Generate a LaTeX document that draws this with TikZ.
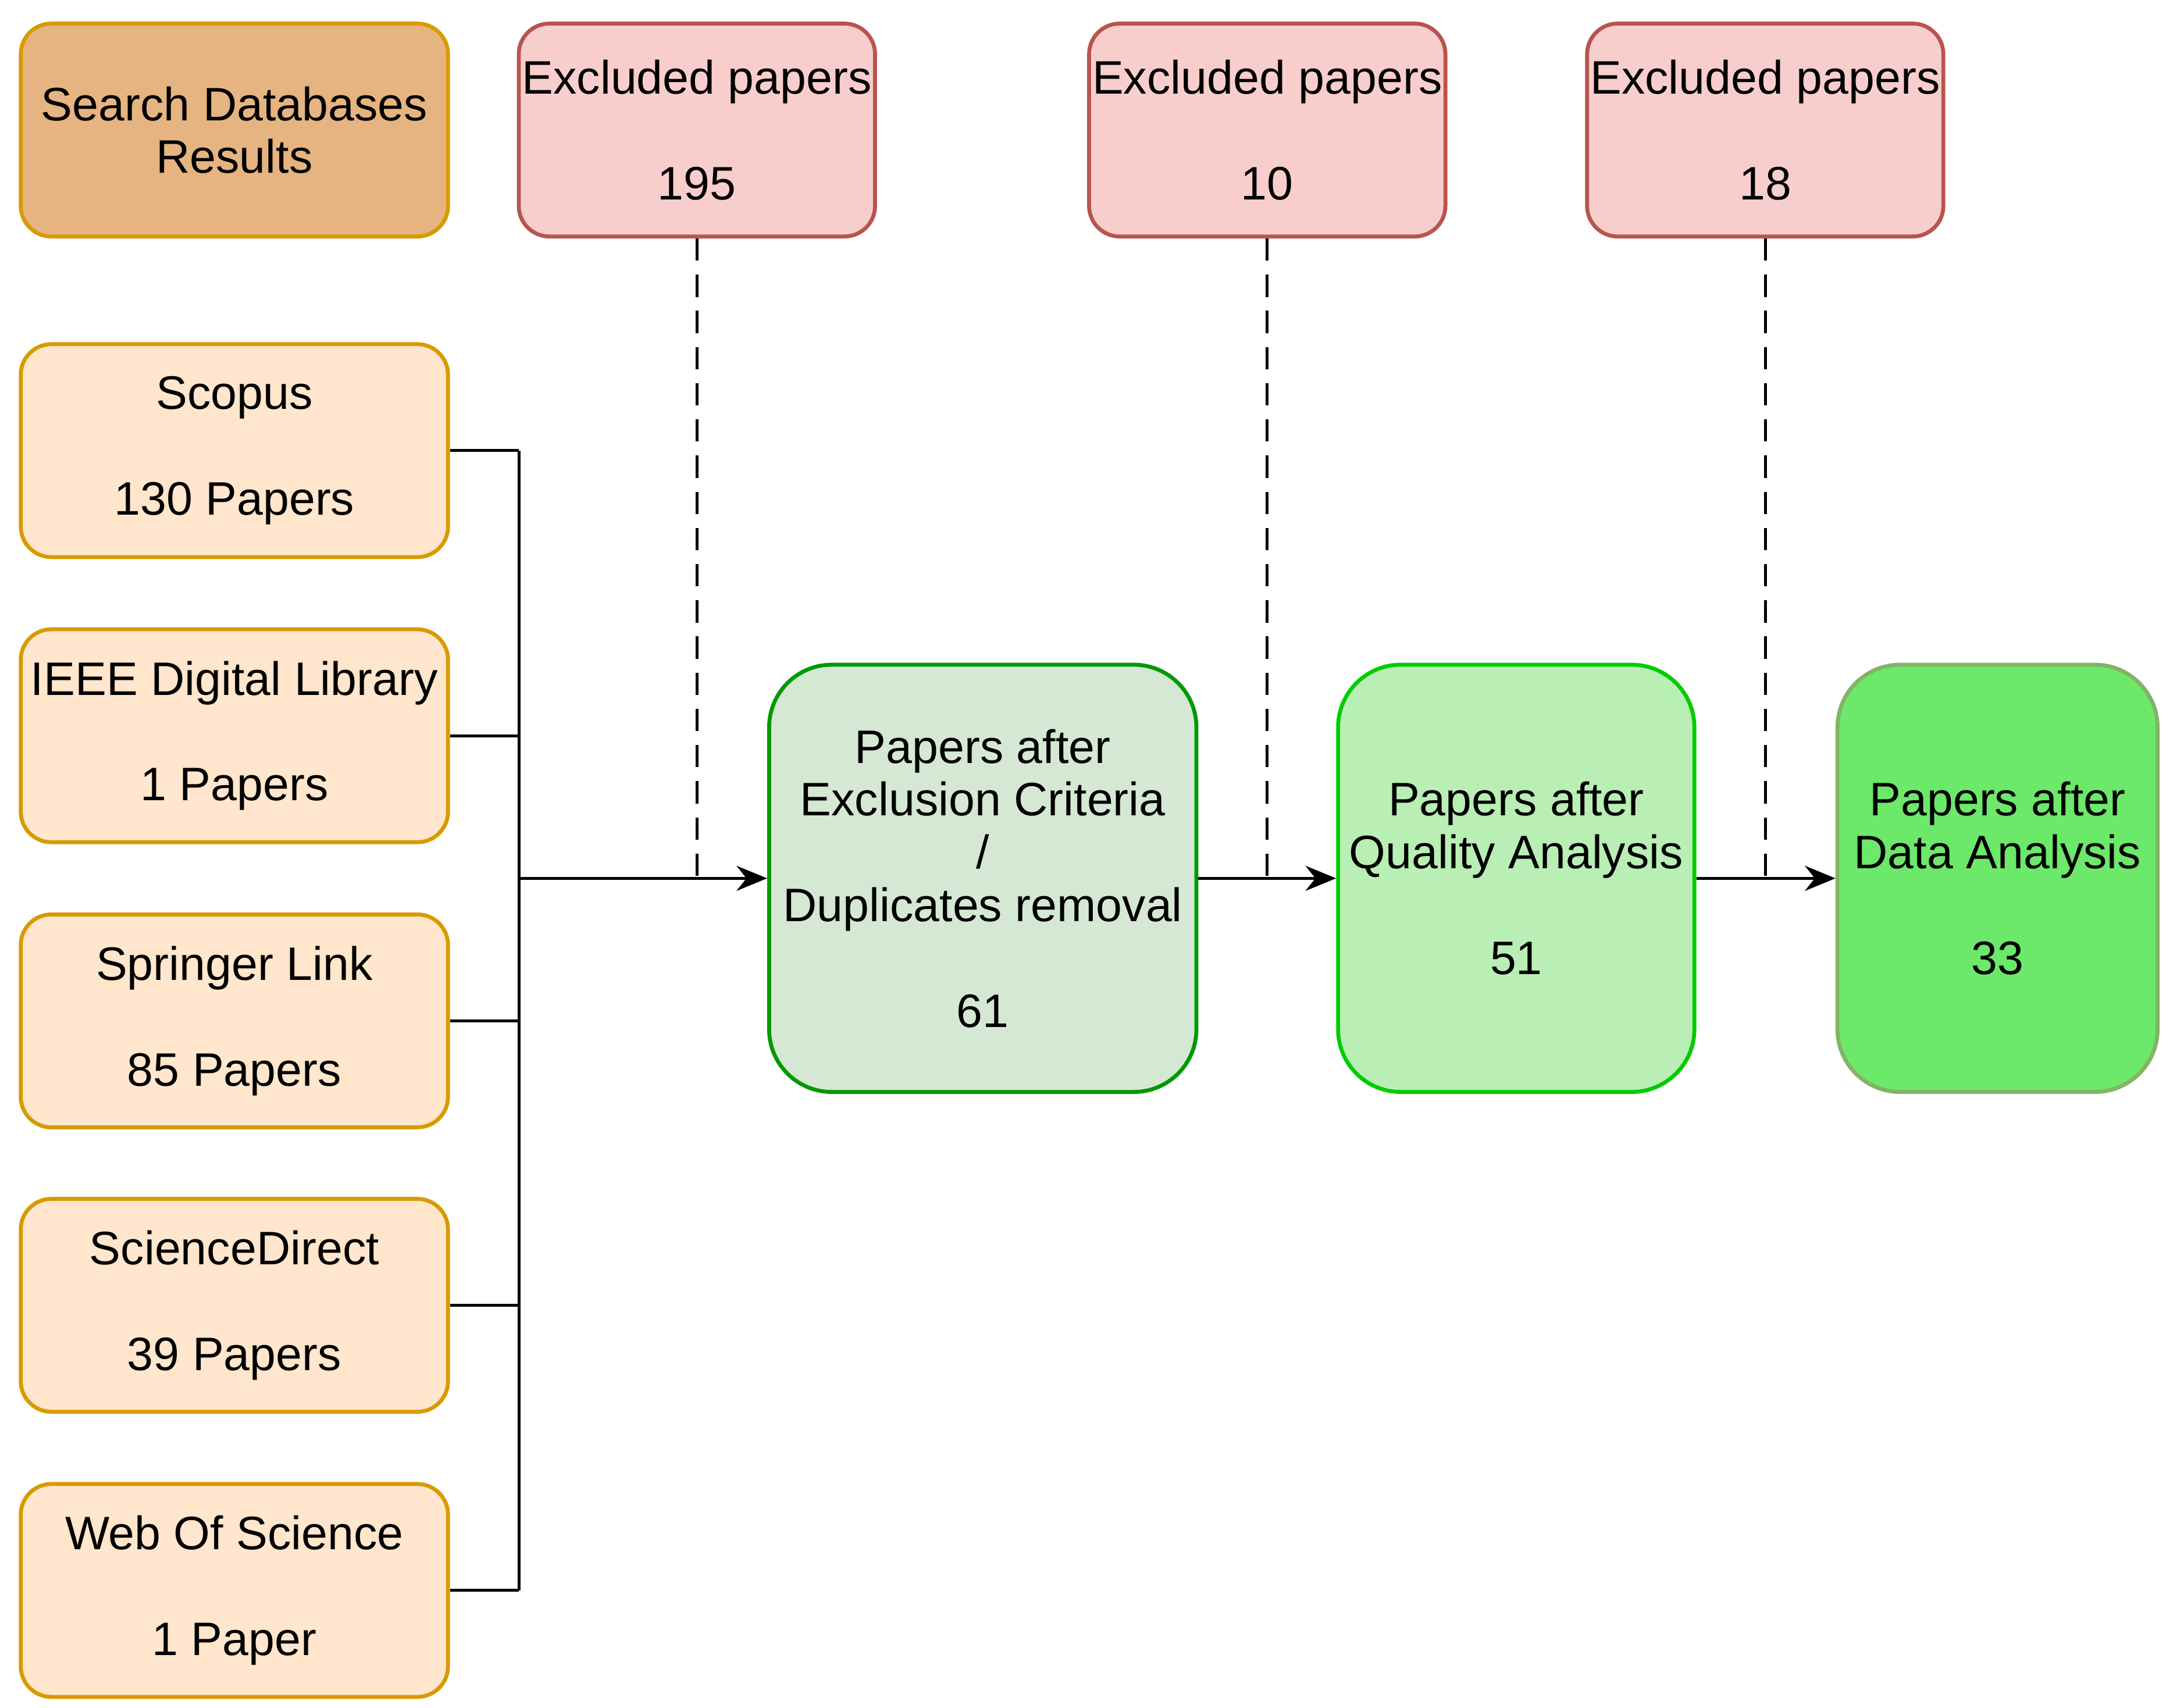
\documentclass[tikz,border=0pt]{standalone}
\usepackage{fontspec}
\setmainfont{Liberation Sans}
\usetikzlibrary{arrows.meta}
\definecolor{srchfill}{HTML}{E6B480}
\definecolor{srcfill}{HTML}{FFE6CC}
\definecolor{orangeline}{HTML}{D79B00}
\definecolor{exfill}{HTML}{F8CECC}
\definecolor{exline}{HTML}{B85450}
\definecolor{gafill}{HTML}{D5E8D4}
\definecolor{galine}{HTML}{009900}
\definecolor{gbfill}{HTML}{B9EEB5}
\definecolor{gbline}{HTML}{00CC00}
\definecolor{gcfill}{HTML}{6CE86A}
\definecolor{gcline}{HTML}{82B366}
\tikzset{
  box/.style={draw, line width=0.8pt, rounded corners=0.22cm, align=center,
    inner sep=0pt, font=\fontsize{9.6}{10.8}\selectfont},
  source/.style={box, fill=srcfill, draw=orangeline, minimum width=3.07cm, minimum height=1.53cm},
  excl/.style={box, fill=exfill, draw=exline, minimum width=2.56cm, minimum height=1.53cm},
  stage/.style={box, rounded corners=0.45cm, minimum height=3.07cm},
  flow/.style={-{Stealth[length=0.22cm, width=0.18cm]}, line width=0.6pt},
}
\begin{document}
\begin{tikzpicture}[x=0.01cm, y=-0.01cm]
  \useasboundingbox (0,0) rectangle (1560,1228);
  \node[source, fill=srchfill] (search) at (168.5,93.5) {Search Databases\\Results};
  % sources
  \node[source] (scopus) at (168.5,324) {Scopus\\[10.8pt]130 Papers};
  \node[source] (ieee) at (168.5,529) {IEEE Digital Library\\[10.8pt]1 Papers};
  \node[source] (springer) at (168.5,734) {Springer Link\\[10.8pt]85 Papers};
  \node[source] (sciencedirect) at (168.5,938.5) {ScienceDirect\\[10.8pt]39 Papers};
  \node[source] (wos) at (168.5,1143.5) {Web Of Science\\[10.8pt]1 Paper};
  % excluded
  \node[excl] (exA) at (501,93.5) {Excluded papers\\[10.8pt]195};
  \node[excl] (exB) at (911,93.5) {Excluded papers\\[10.8pt]10};
  \node[excl] (exC) at (1269,93.5) {Excluded papers\\[10.8pt]18};
  % stages
  \node[stage, fill=gafill, draw=galine, minimum width=3.07cm] (stageA) at (706.5,631.5)
    {Papers after\\Exclusion Criteria\\/\\Duplicates removal\\[10.8pt]61};
  \node[stage, fill=gbfill, draw=gbline, minimum width=2.56cm] (stageB) at (1090,631.5)
    {Papers after\\Quality Analysis\\[10.8pt]51};
  \node[stage, fill=gcfill, draw=gcline, minimum width=2.30cm] (stageC) at (1436,631.5)
    {Papers after\\Data Analysis\\[10.8pt]33};
  % bus
  \coordinate (bustop) at (373,324);
  \coordinate (busbot) at (373,1143.5);
  \coordinate (busmid) at (373,631.5);
  \draw[line width=0.6pt] (bustop) -- (busbot);
  \foreach \s in {scopus,ieee,springer,sciencedirect,wos}
    \draw[line width=0.6pt] (\s.east) -- (\s.east -| bustop);
  \draw[flow] (busmid) -- (stageA.west);
  \draw[flow] (stageA.east) -- (stageB.west);
  \draw[flow] (stageB.east) -- (stageC.west);
  % exclusions
  \foreach \e in {exA,exB,exC}
    \draw[line width=0.6pt, dash pattern=on 0.16cm off 0.1cm] (\e.south) -- (\e.south |- busmid);
\end{tikzpicture}
\end{document}
